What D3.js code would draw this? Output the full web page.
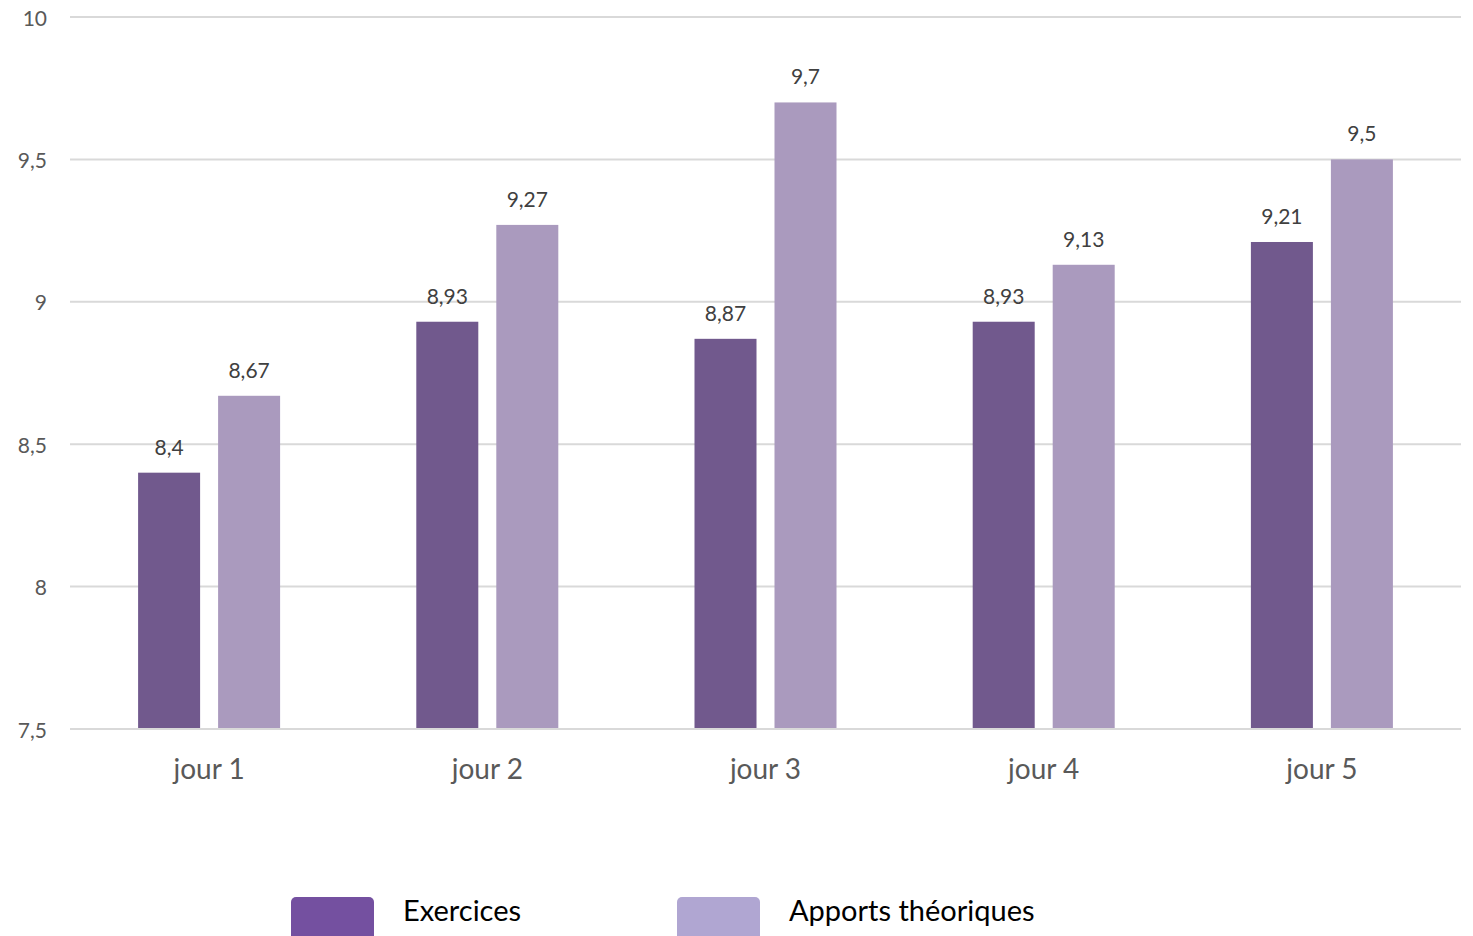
<!DOCTYPE html>
<html><head><meta charset="utf-8">
<script src="https://cdn.jsdelivr.net/npm/d3@7"></script>
<style>body{margin:0;background:#fff;} svg{display:block;}</style>
</head><body>
<svg id="c" width="1473" height="936"></svg>
<script>
const categories = ["jour 1","jour 2","jour 3","jour 4","jour 5"];
const seriesNames = ["Exercices","Apports théoriques"];
const exercices = [8.4, 8.93, 8.87, 8.93, 9.21];
const apports = [8.67, 9.27, 9.7, 9.13, 9.5];
const yTicks = [7.5, 8, 8.5, 9, 9.5, 10];
const barColors = ["#71598d","#aa9abe"];
const legendColors = ["#7450a0","#b0a6d2"];

const svg = d3.select("#c");
const font = "Lato, 'Open Sans', sans-serif";
const x0 = 70, x1 = 1461, yTop = 17, yBot = 729;
const x = d3.scaleBand().domain(categories).range([x0, x1]);
const y = d3.scaleLinear().domain([7.5, 10]).range([yBot, yTop]);
const fmt = v => String(v).replace(".", ",");

// gridlines
svg.append("g").selectAll("line").data(yTicks).join("line")
  .attr("x1", x0).attr("x2", x1)
  .attr("y1", d => y(d)).attr("y2", d => y(d))
  .attr("stroke", "#d9d9d9").attr("stroke-width", 2);

// y tick labels
svg.append("g").selectAll("text").data(yTicks).join("text")
  .attr("x", 47).attr("y", d => y(d)).attr("text-anchor", "end")
  .attr("dominant-baseline", "central")
  .attr("font-family", font).attr("font-size", 21).attr("fill", "#595959")
  .text(d => fmt(d));

const barW = 62, gap = 18;
const sub = d3.scaleOrdinal().domain([0,1]).range([-(gap/2 + barW), gap/2]);
const data = [];
categories.forEach((c, i) => {
  data.push({c, s: 0, v: exercices[i]});
  data.push({c, s: 1, v: apports[i]});
});
const cx = c => x(c) + x.bandwidth() / 2;

svg.append("g").selectAll("rect").data(data).join("rect")
  .attr("x", d => cx(d.c) + sub(d.s))
  .attr("width", barW)
  .attr("y", d => y(d.v))
  .attr("height", d => y(7.5) - y(d.v) - 1)
  .attr("fill", d => barColors[d.s]);

svg.append("g").selectAll("text").data(data).join("text")
  .attr("x", d => cx(d.c) + sub(d.s) + barW / 2)
  .attr("y", d => y(d.v) - 18)
  .attr("text-anchor", "middle")
  .attr("font-family", font).attr("font-size", 21).attr("fill", "#404040")
  .text(d => fmt(d.v));

// category labels
svg.append("g").selectAll("text").data(categories).join("text")
  .attr("x", d => cx(d)).attr("y", 779)
  .attr("text-anchor", "middle")
  .attr("font-family", font).attr("font-size", 28).attr("fill", "#595959")
  .text(d => d);

// legend
const legX = [291, 677];
const lg = svg.append("g").selectAll("g").data(seriesNames).join("g");
lg.append("rect")
  .attr("x", (d, i) => legX[i]).attr("y", 897)
  .attr("width", 83).attr("height", 50).attr("rx", 5)
  .attr("fill", (d, i) => legendColors[i]);
lg.append("text")
  .attr("x", (d, i) => legX[i] + 112).attr("y", 921)
  .attr("font-family", font).attr("font-size", 29).attr("fill", "#000")
  .text(d => d);
</script>
</body></html>
